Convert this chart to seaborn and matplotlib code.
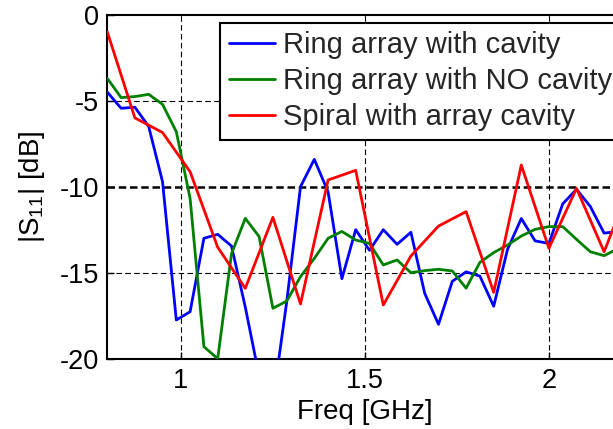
import matplotlib
matplotlib.use("Agg")
import matplotlib.pyplot as plt
import seaborn as sns

# ---- data ----
freq = [0.8, 0.8375, 0.875, 0.9125, 0.95, 0.9875, 1.025, 1.0625, 1.1, 1.1375,
        1.175, 1.2125, 1.25, 1.2875, 1.325, 1.3625, 1.4, 1.4375, 1.475, 1.5125,
        1.55, 1.5875, 1.625, 1.6625, 1.7, 1.7375, 1.775, 1.8125, 1.85, 1.8875,
        1.925, 1.9625, 2.0, 2.0375, 2.075, 2.1125, 2.15, 2.1875]
ring_cavity = [-4.5, -5.44, -5.38, -6.5, -9.7, -17.75, -17.27, -13.0, -12.77, -13.45,
               -17.0, -21.0, -22.5, -16.7, -10.0, -8.41, -10.3, -15.35, -12.5, -13.7,
               -12.5, -13.35, -12.65, -16.2, -18.0, -15.5, -14.95, -15.2, -16.95, -13.65,
               -11.85, -13.15, -13.3, -11.0, -10.15, -11.15, -12.7, -12.6]
ring_no_cavity = [-3.7, -4.82, -4.76, -4.63, -5.21, -6.8, -10.68, -19.3, -20.0, -13.9,
                  -11.84, -12.9, -17.07, -16.65, -15.23, -14.17, -13.0, -12.6, -13.1, -13.3,
                  -14.55, -14.26, -15.0, -14.88, -14.8, -14.9, -15.9, -14.4, -13.83, -13.39,
                  -12.87, -12.48, -12.32, -12.32, -13.06, -13.78, -14.01, -13.6]
freq_spiral = [0.8, 0.875, 0.95, 1.025, 1.1, 1.175, 1.25, 1.325, 1.4, 1.475,
               1.55, 1.625, 1.7, 1.775, 1.85, 1.925, 2.0, 2.075, 2.15, 2.225]
spiral_cavity = [-1.0, -6.0, -6.85, -9.13, -13.52, -15.91, -11.78, -16.82, -9.61, -9.05,
                 -16.88, -14.03, -12.29, -11.45, -16.14, -8.74, -13.58, -10.1, -13.78, -9.7]

series_labels = ["Ring array with cavity", "Ring array with NO cavity",
                 "Spiral with array cavity"]
series_colors = ["#0000ff", "#008000", "#ff0000"]
xticks = [1, 1.5, 2]
xtick_labels = ["1", "1.5", "2"]
yticks = [-20, -15, -10, -5, 0]
ytick_labels = ["-20", "-15", "-10", "-5", "0"]

# ---- style ----
sns.set_theme(style="white")
plt.rcParams["font.family"] = ["Liberation Sans", "DejaVu Sans"]
plt.rcParams["mathtext.default"] = "regular"
plt.rcParams["axes.unicode_minus"] = False

fig = plt.figure(figsize=(6.13, 4.29), dpi=100)
ax = fig.add_axes([107.3 / 613, 70.3 / 429, (622.5 - 107.3) / 613, 344.0 / 429])

# grid
for xv in xticks:
    ax.axvline(xv, color="black", lw=0.8, ls=(0, (5, 3)), zorder=1)
for yv in [-15, -5]:
    ax.axhline(yv, color="black", lw=0.8, ls=(0, (5, 3)), zorder=1)
ax.axhline(-10, color="black", lw=1.8, ls=(0, (3, 1.5)), zorder=1)

sns.lineplot(x=freq, y=ring_cavity, ax=ax, color=series_colors[0], lw=2.0,
             sort=False, estimator=None, label=series_labels[0], zorder=3)
sns.lineplot(x=freq, y=ring_no_cavity, ax=ax, color=series_colors[1], lw=2.0,
             sort=False, estimator=None, label=series_labels[1], zorder=3)
sns.lineplot(x=freq_spiral, y=spiral_cavity, ax=ax, color=series_colors[2], lw=2.0,
             sort=False, estimator=None, label=series_labels[2], zorder=3)

ax.set_xlim(0.8, 2.2)
ax.set_ylim(-20, 0)
ax.set_xticks(xticks)
ax.set_xticklabels(xtick_labels)
ax.set_yticks(yticks)
ax.set_yticklabels(ytick_labels)
ax.tick_params(direction="in", length=5, width=1.0, labelsize=19.5, colors="black",
               top=False, right=False, left=True, bottom=True)
ax.tick_params(axis="x", pad=7)
ax.tick_params(axis="y", pad=6)

for side in ["left", "bottom", "top"]:
    ax.spines[side].set_visible(True)
    ax.spines[side].set_color("black")
    ax.spines[side].set_linewidth(1.5)
ax.spines["right"].set_visible(False)

ax.set_xlabel("Freq [GHz]", fontsize=20, color="black", labelpad=3)
ax.set_ylabel("|S$_{11}$| [dB]", fontsize=20, color="black", labelpad=9)

leg = ax.legend(loc="upper left", bbox_to_anchor=(220 / 613, 1 - 22.7 / 429),
                bbox_transform=fig.transFigure, borderaxespad=0, fontsize=21,
                handlelength=1.6, handletextpad=0.25, labelspacing=0.27,
                borderpad=0.3, fancybox=False, framealpha=1, edgecolor="black")
leg.get_frame().set_linewidth(1.5)
for line in leg.get_lines():
    line.set_linewidth(2.0)

fig.savefig("out.png", dpi=100)
